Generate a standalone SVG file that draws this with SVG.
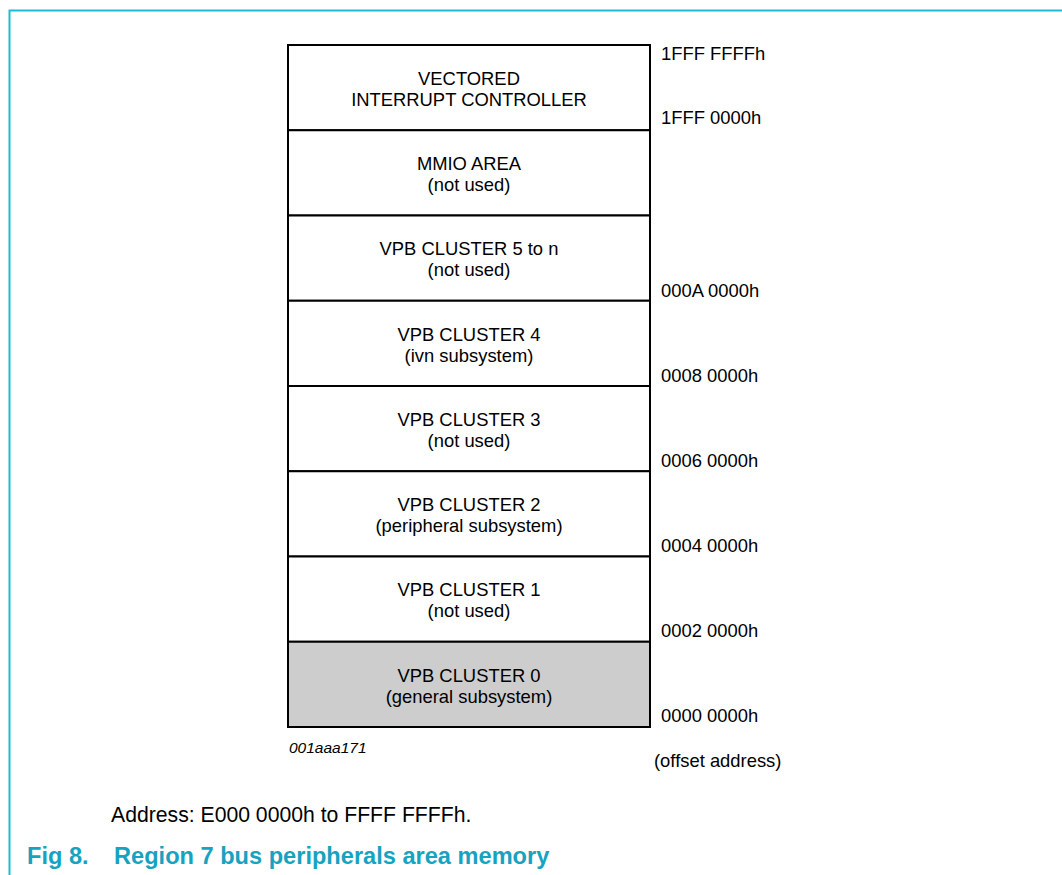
<svg xmlns="http://www.w3.org/2000/svg" width="1062" height="875" viewBox="0 0 1062 875">
<style>
.t{font-family:"Liberation Sans",Arial,sans-serif;font-size:18.4px;fill:#000}
.c{text-anchor:middle}
.box{fill:#fff;stroke:#000;stroke-width:2}
.g{fill:#cdcdcd}
.cap{font-family:"Liberation Sans",Arial,sans-serif;font-size:23.6px;font-weight:bold;fill:#17a3bf}
</style>
<rect width="1062" height="875" fill="#fff"/>
<g id="frame" fill="none" stroke="#1fbcd8" stroke-width="2">
<polyline points="9.5,875 9.5,10.5 1062,10.5"/>
</g>
<g id="vic"><rect class="box" x="288" y="45" width="362" height="85.25"/><text class="t c" x="469" y="85">VECTORED</text><text class="t c" x="469" y="106">INTERRUPT CONTROLLER</text></g>
<g id="mmio"><rect class="box" x="288" y="130.25" width="362" height="85.25"/><text class="t c" x="469" y="170">MMIO AREA</text><text class="t c" x="469" y="191">(not used)</text></g>
<g id="vpb5"><rect class="box" x="288" y="215.5" width="362" height="85.25"/><text class="t c" x="469" y="255">VPB CLUSTER 5 to n</text><text class="t c" x="469" y="276">(not used)</text></g>
<g id="vpb4"><rect class="box" x="288" y="300.75" width="362" height="85.25"/><text class="t c" x="469" y="341">VPB CLUSTER 4</text><text class="t c" x="469" y="362">(ivn subsystem)</text></g>
<g id="vpb3"><rect class="box" x="288" y="386" width="362" height="85.25"/><text class="t c" x="469" y="426">VPB CLUSTER 3</text><text class="t c" x="469" y="447">(not used)</text></g>
<g id="vpb2"><rect class="box" x="288" y="471.25" width="362" height="85.25"/><text class="t c" x="469" y="511">VPB CLUSTER 2</text><text class="t c" x="469" y="532">(peripheral subsystem)</text></g>
<g id="vpb1"><rect class="box" x="288" y="556.5" width="362" height="85.25"/><text class="t c" x="469" y="596">VPB CLUSTER 1</text><text class="t c" x="469" y="617">(not used)</text></g>
<g id="vpb0"><rect class="box g" x="288" y="641.75" width="362" height="85.25"/><text class="t c" x="469" y="682">VPB CLUSTER 0</text><text class="t c" x="469" y="703">(general subsystem)</text></g>
<g id="addresses">
<text class="t" x="661" y="60">1FFF FFFFh</text>
<text class="t" x="661" y="124">1FFF 0000h</text>
<text class="t" x="661" y="297">000A 0000h</text>
<text class="t" x="661" y="382">0008 0000h</text>
<text class="t" x="661" y="467">0006 0000h</text>
<text class="t" x="661" y="552">0004 0000h</text>
<text class="t" x="661" y="637">0002 0000h</text>
<text class="t" x="661" y="722">0000 0000h</text>
<text class="t" x="654" y="767">(offset address)</text>
</g>
<text class="t" x="289" y="753" style="font-size:15.5px;font-style:italic">001aaa171</text>
<text class="t" x="111" y="822" style="font-size:21.2px">Address: E000 0000h to FFFF FFFFh.</text>
<text class="cap" x="27" y="864">Fig 8.</text>
<text class="cap" x="114" y="864">Region 7 bus peripherals area memory</text>
</svg>
